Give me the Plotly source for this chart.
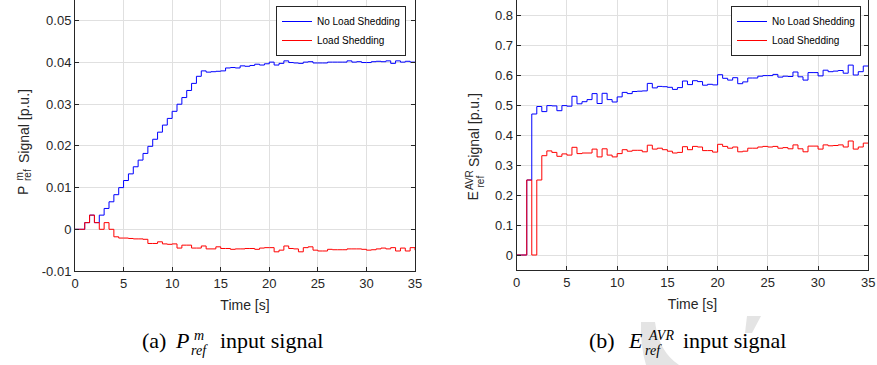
import plotly.graph_objects as go

W, H = 877, 365

# ---------------- data (0.5 s zero-order-hold samples, 0..35 s) ----------------
sample_period_s = 0.5
n_samples = 71
time_s = [k * sample_period_s for k in range(n_samples)]

pm_no_shed = [0, 0, 0.0016, 0.0034, 0.0016, 0.0034, 0.0050, 0.0066, 0.0083, 0.0100,
              0.0117, 0.0133, 0.0150, 0.0166, 0.0182, 0.0199, 0.0216, 0.0233, 0.0250, 0.0266,
              0.0283, 0.0300, 0.0316, 0.0333, 0.0350, 0.0367, 0.0380, 0.0377, 0.0378, 0.0379,
              0.0380, 0.0387, 0.0388, 0.0387, 0.0392, 0.0391, 0.0393, 0.0396, 0.0394, 0.0397,
              0.0401, 0.0394, 0.0398, 0.0404, 0.0400, 0.0399, 0.0398, 0.0401, 0.0402, 0.0399,
              0.0399, 0.0399, 0.0401, 0.0401, 0.0401, 0.0401, 0.0404, 0.0401, 0.0402, 0.0400,
              0.0400, 0.0402, 0.0403, 0.0402, 0.0404, 0.0398, 0.0404, 0.0401, 0.0403, 0.0401,
              0.0400]

pm_shed = [0, 0, 0.0016, 0.0034, 0.0016, 0, 0.0016, 0, -0.0018, -0.0021,
           -0.0021, -0.0022, -0.0023, -0.0023, -0.0024, -0.0034, -0.0034, -0.0030, -0.0035, -0.0036,
           -0.0035, -0.0045, -0.0038, -0.0038, -0.0045, -0.0045, -0.0040, -0.0047, -0.0047, -0.0042,
           -0.0046, -0.0046, -0.0048, -0.0047, -0.0047, -0.0046, -0.0046, -0.0048, -0.0045, -0.0044,
           -0.0044, -0.0054, -0.0050, -0.0040, -0.0046, -0.0047, -0.0054, -0.0044, -0.0042, -0.0050,
           -0.0052, -0.0052, -0.0048, -0.0049, -0.0049, -0.0049, -0.0047, -0.0047, -0.0047, -0.0048,
           -0.0050, -0.0049, -0.0047, -0.0045, -0.0047, -0.0044, -0.0052, -0.0045, -0.0052, -0.0044,
           -0.0050]

eavr_no_shed = [0, 0, 0.25, 0.470, 0.495, 0.478, 0.498, 0.497, 0.481, 0.498,
                0.496, 0.529, 0.504, 0.511, 0.518, 0.538, 0.505, 0.539, 0.518, 0.510,
                0.527, 0.542, 0.538, 0.545, 0.546, 0.547, 0.572, 0.557, 0.562, 0.561,
                0.559, 0.552, 0.558, 0.580, 0.568, 0.581, 0.578, 0.566, 0.569, 0.567,
                0.601, 0.589, 0.583, 0.591, 0.571, 0.577, 0.590, 0.590, 0.596, 0.598,
                0.598, 0.602, 0.593, 0.596, 0.595, 0.610, 0.594, 0.583, 0.608, 0.608,
                0.597, 0.616, 0.611, 0.613, 0.615, 0.606, 0.633, 0.600, 0.611, 0.630,
                0.630]

eavr_shed = [0, 0, 0.25, 0, 0.25, 0.331, 0.347, 0.342, 0.329, 0.337,
             0.333, 0.359, 0.338, 0.340, 0.340, 0.353, 0.327, 0.354, 0.333, 0.327,
             0.338, 0.351, 0.346, 0.349, 0.349, 0.344, 0.366, 0.353, 0.356, 0.351,
             0.346, 0.340, 0.342, 0.361, 0.351, 0.362, 0.360, 0.348, 0.348, 0.343,
             0.369, 0.362, 0.356, 0.360, 0.344, 0.346, 0.356, 0.356, 0.360, 0.362,
             0.360, 0.362, 0.356, 0.358, 0.354, 0.367, 0.354, 0.344, 0.363, 0.363,
             0.353, 0.367, 0.364, 0.365, 0.367, 0.360, 0.380, 0.353, 0.360, 0.373,
             0.373]

series_names = ["No Load Shedding", "Load Shedding"]
x_ticks = [0, 5, 10, 15, 20, 25, 30, 35]
pm_ticks = [-0.01, 0, 0.01, 0.02, 0.03, 0.04, 0.05]
pm_tick_labels = ["-0.01", "0", "0.01", "0.02", "0.03", "0.04", "0.05"]
eavr_ticks = [0, 0.1, 0.2, 0.3, 0.4, 0.5, 0.6, 0.7, 0.8]
eavr_tick_labels = ["0", "0.1", "0.2", "0.3", "0.4", "0.5", "0.6", "0.7", "0.8"]

# ---------------- styling ----------------
AX = "#262626"
GRID = "#e0e0e0"
SANS = "Liberation Sans, Arial, sans-serif"
SERIF = "Liberation Serif, Times New Roman, serif"
BLUE = "#0000ff"
RED = "#ff0000"


def px(x):
    return x / W


def py(y):
    return 1 - y / H


fig = go.Figure()

fig.add_trace(go.Scatter(x=time_s, y=pm_no_shed, mode="lines", line=dict(color=BLUE, width=1, shape="hv"),
                         name=series_names[0], xaxis="x", yaxis="y", legend="legend"))
fig.add_trace(go.Scatter(x=time_s, y=pm_shed, mode="lines", line=dict(color=RED, width=1, shape="hv"),
                         name=series_names[1], xaxis="x", yaxis="y", legend="legend"))
fig.add_trace(go.Scatter(x=time_s, y=eavr_no_shed, mode="lines", line=dict(color=BLUE, width=1, shape="hv"),
                         name=series_names[0], xaxis="x2", yaxis="y2", legend="legend2"))
fig.add_trace(go.Scatter(x=time_s, y=eavr_shed, mode="lines", line=dict(color=RED, width=1, shape="hv"),
                         name=series_names[1], xaxis="x2", yaxis="y2", legend="legend2"))

common_x = dict(range=[0, 35], tickvals=x_ticks, ticks="inside", ticklen=4, tickcolor=AX,
                showline=True, linecolor=AX, linewidth=1, mirror=False, automargin=False,
                showgrid=True, gridcolor=GRID, gridwidth=1, zeroline=False,
                tickfont=dict(family=SANS, size=13, color=AX),
                title=dict(text="Time [s]", font=dict(family=SANS, size=14, color=AX), standoff=10))
common_y = dict(ticks="inside", ticklen=4, tickcolor=AX, automargin=False,
                showline=True, linecolor=AX, linewidth=1, mirror="ticks",
                showgrid=True, gridcolor=GRID, gridwidth=1, zeroline=False,
                tickfont=dict(family=SANS, size=13, color=AX))

legend_common = dict(bgcolor="white", bordercolor=AX, borderwidth=1,
                     font=dict(family=SANS, size=10, color="black"),
                     xanchor="right", yanchor="top", itemwidth=30, traceorder="normal")

fig.update_layout(
    width=W, height=H,
    margin=dict(l=0, r=0, t=0, b=0, pad=0, autoexpand=False),
    paper_bgcolor="white", plot_bgcolor="white",
    xaxis=dict(domain=[px(75), px(415)], anchor="y", **common_x),
    yaxis=dict(domain=[py(271), 1], anchor="x", range=[-0.01, 0.055],
               tickvals=pm_ticks, ticktext=pm_tick_labels, **common_y),
    xaxis2=dict(domain=[px(516.7), px(868.3)], anchor="y2", **common_x),
    yaxis2=dict(domain=[py(270), 1], anchor="x2", range=[-0.05, 0.85],
                tickvals=eavr_ticks, ticktext=eavr_tick_labels, **common_y),
    legend=dict(x=px(406), y=py(6), **legend_common),
    legend2=dict(x=px(861), y=py(6), **legend_common),
    showlegend=True,
)

ann = []


def add_text(text, x, y, size, family=SANS, xanchor="center", yanchor="middle", angle=0, color=AX):
    ann.append(dict(text=text, x=px(x), y=py(y), xref="paper", yref="paper", showarrow=False,
                    xanchor=xanchor, yanchor=yanchor, textangle=angle,
                    font=dict(family=family, size=size, color=color)))


# y-axis labels (rotated, with stacked super/subscripts)
add_text("P", 23, 191, 14, angle=-90)
add_text("m", 18.5, 177, 10, angle=-90)
add_text("ref", 28, 175, 10, angle=-90)
add_text("Signal [p.u.]", 24, 126, 14, angle=-90)

add_text("E", 473, 196.5, 14, angle=-90)
add_text("AVR", 469.5, 180.5, 10, angle=-90)
add_text("ref", 480, 181.5, 10, angle=-90)
add_text("Signal [p.u.]", 474, 130, 14, angle=-90)

# sub-figure captions
CAP = "black"
add_text("(a)", 140, 340, 22, family=SERIF, xanchor="left", color=CAP)
add_text("<i>P</i>", 191, 340, 22, family=SERIF, xanchor="right", color=CAP)
add_text("<i>m</i>", 192, 335, 14, family=SERIF, xanchor="left", color=CAP)
add_text("<i>ref</i>", 189, 350, 14, family=SERIF, xanchor="left", color=CAP)
add_text("input signal", 218, 340, 22, family=SERIF, xanchor="left", color=CAP)

add_text("(b)", 587, 340, 22, family=SERIF, xanchor="left", color=CAP)
add_text("<i>E</i>", 645, 340, 22, family=SERIF, xanchor="right", color=CAP)
add_text("<i>AVR</i>", 646, 335, 14, family=SERIF, xanchor="left", color=CAP)
add_text("<i>ref</i>", 643, 350, 14, family=SERIF, xanchor="left", color=CAP)
add_text("input signal", 681, 340, 22, family=SERIF, xanchor="left", color=CAP)

fig.update_layout(annotations=ann)

# faint watermark fragments in the lower right
WM = "#e4e4e4"
fig.update_layout(shapes=[
    dict(type="path", xref="paper", yref="paper", layer="below", line=dict(width=0), fillcolor=WM,
         path=f"M {px(641)},{py(322)} L {px(655)},{py(322)} Q {px(659)},{py(352)} {px(679)},{py(365)} "
              f"L {px(646)},{py(365)} Q {px(640)},{py(345)} {px(641)},{py(322)} Z"),
    dict(type="path", xref="paper", yref="paper", layer="below", line=dict(width=0), fillcolor=WM,
         path=f"M {px(747)},{py(316)} L {px(761)},{py(316)} L {px(752)},{py(333)} L {px(745)},{py(333)} Z"),
])

fig.write_html("out.html")
